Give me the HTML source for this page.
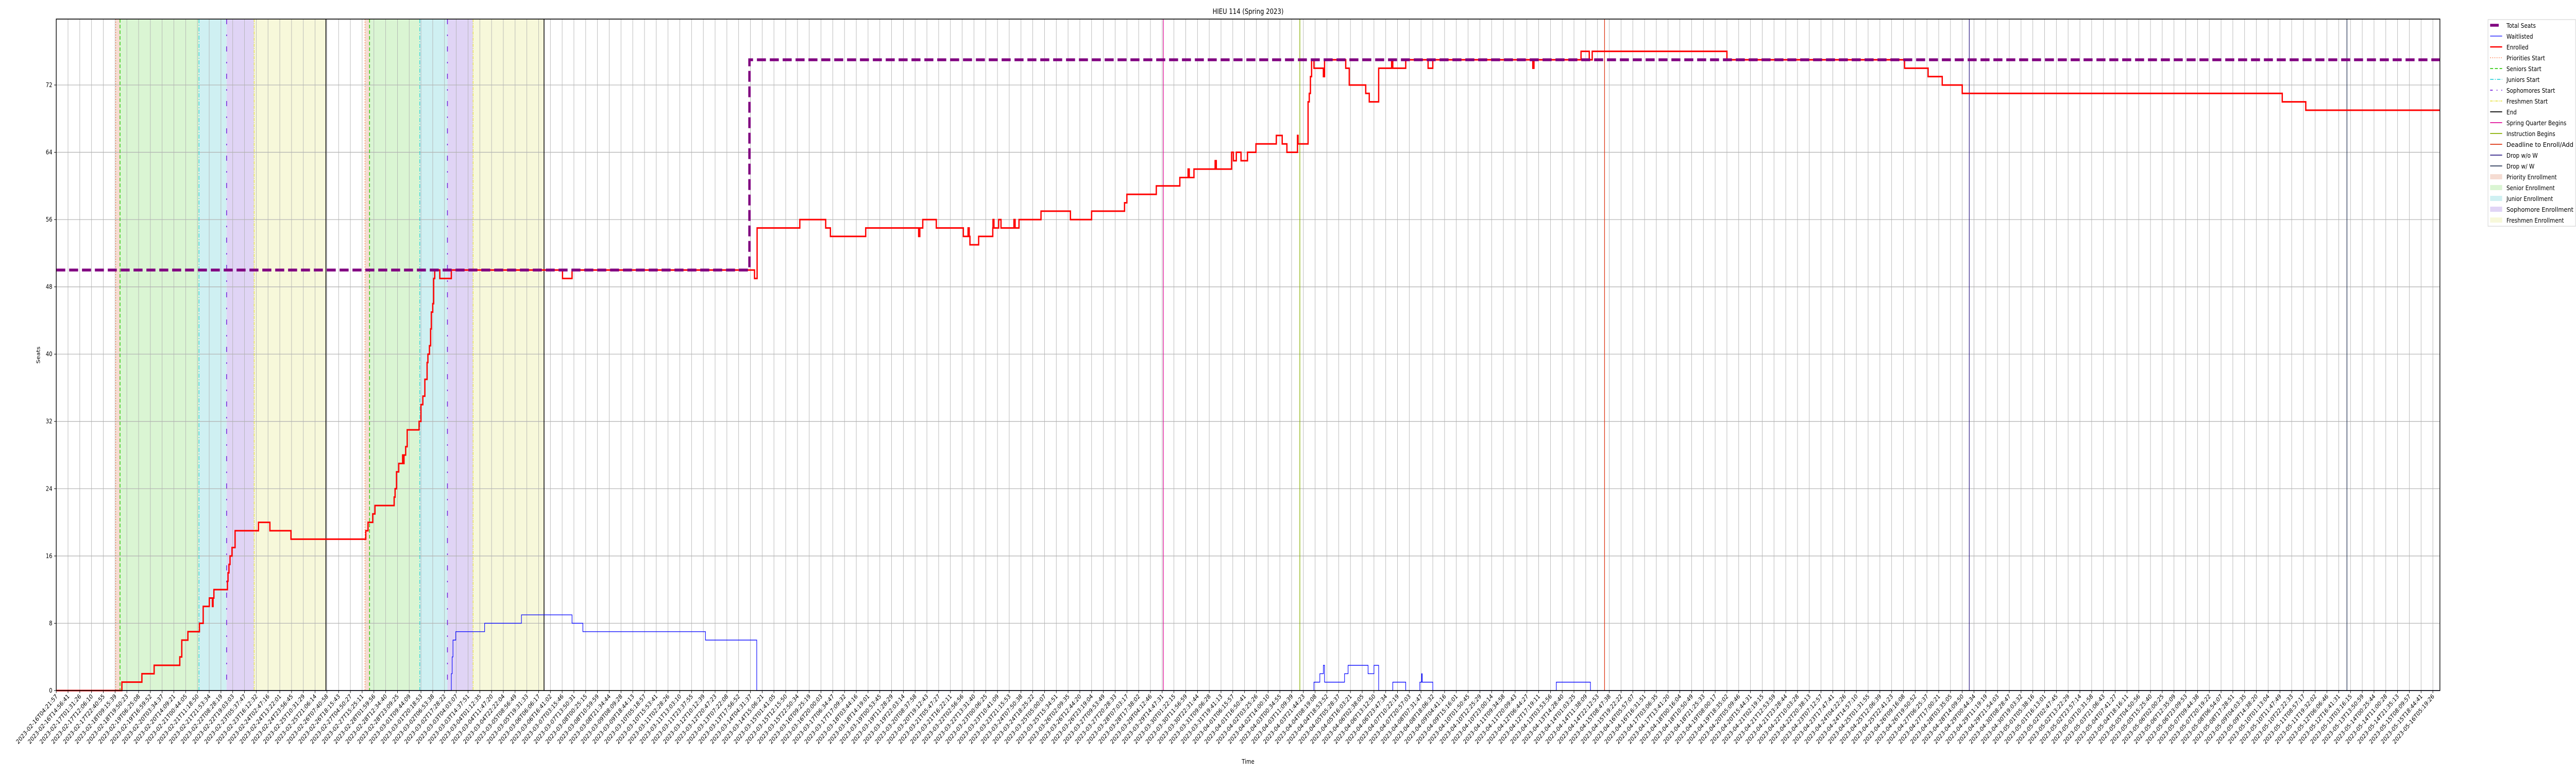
<!DOCTYPE html>
<html><head><meta charset="utf-8"><style>
html,body{margin:0;padding:0;background:#fff;width:100%;height:100%;overflow:hidden;}
svg{display:block;overflow:hidden;width:100vw;height:100vh;font-family:"DejaVu Sans","Liberation Sans",sans-serif;}
</style></head><body>
<svg id="chart" viewBox="0 0 6000 1500" preserveAspectRatio="none" xmlns="http://www.w3.org/2000/svg">
<rect width="6000" height="1500" fill="#fff"/>
<g id="spans"></g><g id="grid"></g><g id="events"></g><g id="series"></g><g id="axes"></g>
<text x="2907" y="27" font-size="14" text-anchor="middle">HIEU 114 (Spring 2023)</text>
<text x="0" y="0" font-size="12" text-anchor="middle" transform="translate(93,689) rotate(-90)">Seats</text>
<text x="2907" y="1482" font-size="12" text-anchor="middle">Time</text>
<g id="legend"></g>
</svg>
<script>
// ---- data (x in tick-interval units, y in seats) ----
const enrolledT=[0,5.58,7.28,8.32,10.5,10.67,11.19,12.17,12.49,13.01,13.27,13.33,13.4,14.55,14.6,14.68,14.77,14.94,15.2,17.19,18.16,19.95,26.31,26.5,26.9,27.09,28.72,28.8,28.92,29.11,29.44,29.5,29.56,29.7,29.83,30.84,31.0,31.16,31.33,31.52,31.59,31.72,31.82,31.88,32.0,32.08,32.17,32.6,33.58,43.03,43.84,59.35,59.57,63.2,65.4,65.8,68.8,73.3,73.4,73.65,74.8,77.1,77.5,77.6,77.66,78.4,79.6,79.62,79.7,80.1,80.3,81.4,81.5,81.83,83.7,86.2,88.0,90.8,91.0,93.5,95.5,96.2,96.3,96.7,98.5,98.6,99.9,100.05,100.3,100.7,101.25,101.97,103.7,104.2,104.6,105.5,105.55,106.4,106.5,106.6,106.7,106.9,107.7,107.8,109.6,109.9,111.3,111.6,112.4,113.5,113.6,114.7,116.6,117.0,125.5,125.6,129.6,130.3,130.55,142.0,157.1,159.1,160.3,162.0,189.2,191.2];
const enrolledV=[0,1,2,3,4,6,7,8,10,11,10,11,12,13,14,15,16,17,19,20,19,18,19,20,21,22,23,24,26,27,28,27,28,29,31,32,34,35,37,39,40,41,43,45,46,49,50,49,50,49,50,49,55,56,55,54,55,54,55,56,55,54,55,54,53,54,55,56,55,56,55,56,55,56,57,56,57,58,59,60,61,62,61,62,63,62,64,63,64,63,64,65,66,65,64,66,65,70,71,73,75,74,73,75,74,72,71,70,74,75,74,75,74,75,74,75,76,75,76,75,74,73,72,71,70,69];
const waitT=[0,33.58,33.65,33.72,33.8,33.96,36.41,39.54,43.84,44.76,55.18,59.54,106.9,107.4,107.7,107.8,109.5,109.8,111.5,112.0,112.4,113.6,114.7,115.9,116.05,116.1,117.0,127.5,130.4];
const waitV=[0,2,4,6,6,7,8,9,8,7,6,0,1,2,3,1,2,3,2,3,0,1,0,1,2,1,0,1,0];
const seatsT=[0,58.92];
const seatsV=[50,75];
const eventNames=["Priorities Start","Seniors Start","Juniors Start","Sophomores Start","Freshmen Start","End"];
const eventRound1=[5.06,5.42,12.13,14.48,16.82,22.92];
const eventRound2=[26.24,26.63,30.9,33.25,35.43,41.46];
const calendarNames=["Spring Quarter Begins","Instruction Begins","Deadline to Enroll/Add","Drop w/o W","Drop w/ W"];
const calendarT=[94.1,105.7,131.6,162.6,194.7];
const yTicks=[0,8,16,24,32,40,48,56,64,72];
const xStartLabel="2023-02-16T04:21:57";
const xTickCount=203;
const xStepHours=10.579;
// ---- geometry ----
const L=131,R=5683,T=37,B=1340,XMAX=202.6,YPER=16.32;
const X=i=>L+i*(R-L)/XMAX;
const Y=v=>B-v*YPER;
const NS="http://www.w3.org/2000/svg";
function mk(tag,parent,attrs){const e=document.createElementNS(NS,tag);for(const k in attrs)e.setAttribute(k,attrs[k]);parent.appendChild(e);return e;}
const gSp=document.getElementById('spans'),gG=document.getElementById('grid'),gE=document.getElementById('events'),gS=document.getElementById('series'),gA=document.getElementById('axes');
const spanColors=["#f5dcd2","#daf5d3","#cff0f2","#e0d4f5","#f7f8da"];
const spanNames=["priority-enrollment","senior-enrollment","junior-enrollment","sophomore-enrollment","freshmen-enrollment"];
[eventRound1,eventRound2].forEach((ev,r)=>{
  for(let k=0;k<5;k++){
    const e=mk('rect',gSp,{x:X(ev[k]),y:T,width:X(ev[k+1])-X(ev[k]),height:B-T,fill:spanColors[k]});
    
    
  }
});
for(let i=0;i<xTickCount;i++){
  const e=mk('line',gG,{x1:X(i),x2:X(i),y1:T,y2:B,stroke:'#b0b0b0','stroke-width':1});
  
  
}
yTicks.forEach(v=>{
  const e=mk('line',gG,{x1:L,x2:R,y1:Y(v),y2:Y(v),stroke:'#b0b0b0','stroke-width':1.2});
  
  
});
const evStyles=[{c:'#ff6a33',d:'2,3',w:1.2},{c:'#33cc11',d:'7,4',w:1.8},{c:'#11ccd4',d:'8,3,2,3',w:1.3},{c:'#7722dd',d:'10,20,3,20',w:1.8},{c:'#e6e030',d:'6,2,2,2',w:1.3},{c:'#000',d:'',w:1.8}];
[eventRound1,eventRound2].forEach((ev,r)=>{
  ev.forEach((t,k)=>{
    const s=evStyles[k];
    const e=mk('line',gE,{x1:X(t),x2:X(t),y1:T,y2:B,stroke:s.c,'stroke-width':s.w,'stroke-dasharray':s.d});
    
    
  });
});
const calColors=['#e01199','#88b000','#dd3311','#332288','#2b3a5a'];
calendarT.forEach((t,k)=>{
  const e=mk('line',gE,{x1:X(t),x2:X(t),y1:T,y2:B,stroke:calColors[k],'stroke-width':1.5});
  
  
});
function stepPath(ts,vs){let d='M'+X(ts[0])+','+Y(vs[0]);for(let i=1;i<ts.length;i++){d+=' H'+X(ts[i])+' V'+Y(vs[i]);}d+=' H'+X(XMAX);return d;}
let e;
e=mk('path',gS,{d:stepPath(waitT,waitV),fill:'none',stroke:'#0000ff','stroke-width':1.3});


e=mk('path',gS,{d:stepPath(enrolledT,enrolledV),fill:'none',stroke:'#ff0000','stroke-width':3});


e=mk('path',gS,{d:stepPath(seatsT,seatsV),fill:'none',stroke:'#800080','stroke-width':5.5,'stroke-dasharray':'21,9'});


e=mk('rect',gA,{x:L,y:T,width:R-L,height:B-T,fill:'none',stroke:'#000','stroke-width':1.6});


yTicks.forEach(v=>{
  mk('line',gA,{x1:L-5,x2:L,y1:Y(v),y2:Y(v),stroke:'#000','stroke-width':1});
  const t=mk('text',gA,{x:L-9,y:Y(v)+4,'font-size':12,'text-anchor':'end'});t.textContent=v;
  
  
});
const start=new Date(xStartLabel+'Z').getTime();
const p=n=>String(n).padStart(2,'0');
for(let i=0;i<xTickCount;i++){
  const d=new Date(start+Math.round(i*xStepHours*3600)*1000);
  const lab=d.getUTCFullYear()+'-'+p(d.getUTCMonth()+1)+'-'+p(d.getUTCDate())+'T'+p(d.getUTCHours())+':'+p(d.getUTCMinutes())+':'+p(d.getUTCSeconds());
  const x=X(i);
  mk('line',gA,{x1:x,x2:x,y1:B,y2:B+5,stroke:'#000','stroke-width':1});
  const t=mk('text',gA,{x:0,y:0,'font-size':12,'text-anchor':'end',transform:'translate('+(x+4)+','+(B+12)+') rotate(-45)'});
  t.textContent=lab;
  
  
}
const lg=document.getElementById('legend');
mk('rect',lg,{x:5795,y:38,width:204,height:401,fill:'#fff',stroke:'#ccc','stroke-width':1});
const items=[
 ['Total Seats','line','#800080',5.5,''],['Waitlisted','line','#0000ff',1.3,''],['Enrolled','line','#ff0000',2.5,''],
 ['Priorities Start','line','#ff6a33',1.3,'2,3'],['Seniors Start','line','#33cc11',1.8,'7,4'],['Juniors Start','line','#11ccd4',1.5,'8,3,2,3'],
 ['Sophomores Start','line','#7722dd',1.8,'6,9,2,9'],['Freshmen Start','line','#e6e030',1.5,'6,2,2,2'],['End','line','#000',1.8,''],
 ['Spring Quarter Begins','line','#e01199',1.8,''],['Instruction Begins','line','#88b000',1.8,''],['Deadline to Enroll/Add','line','#dd3311',1.8,''],
 ['Drop w/o W','line','#332288',1.8,''],['Drop w/ W','line','#2b3a5a',1.8,''],
 ['Priority Enrollment','rect','#f5dcd2'],['Senior Enrollment','rect','#daf5d3'],['Junior Enrollment','rect','#cff0f2'],
 ['Sophomore Enrollment','rect','#e0d4f5'],['Freshmen Enrollment','rect','#f7f8da']];
items.forEach((it,k)=>{
  const cy=49+k*21;
  const g=mk('g',lg,{});
  
  
  if(it[1]==='line'){
    const x2=it[0]==='Total Seats'?5820:5828;
    mk('line',g,{x1:5800,x2:x2,y1:cy,y2:cy,stroke:it[2],'stroke-width':it[3],'stroke-dasharray':it[4]});
  } else {
    mk('rect',g,{x:5800,y:cy-5,width:28,height:10,fill:it[2]});
  }
  const attrs={x:5838,y:cy+5,'font-size':12.6};
  if(it[0]==='Deadline to Enroll/Add'||it[0]==='Sophomore Enrollment'){attrs.textLength=156;attrs.lengthAdjust='spacingAndGlyphs';}
  const t=mk('text',g,attrs);t.textContent=it[0];
});
</script>
</body></html>
